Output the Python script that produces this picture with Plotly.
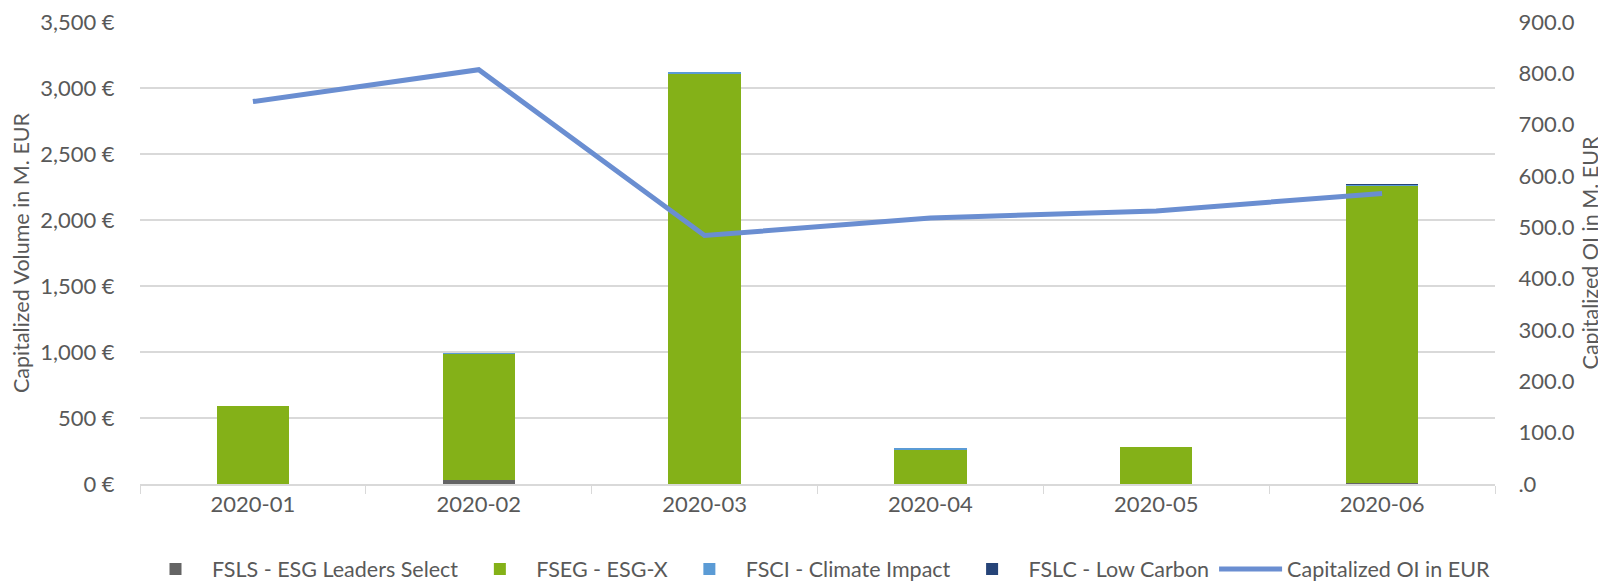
import plotly.graph_objects as go

# Monthly capitalized volume per product (M. EUR)
months = ["2020-01", "2020-02", "2020-03", "2020-04", "2020-05", "2020-06"]
fsls = [0, 30, 0, 0, 0, 10]
fseg = [588, 955, 3112, 258, 282, 2250]
fsci = [0, 7, 7, 12, 0, 6]
fslc = [0, 0, 0, 0, 0, 4]

# Capitalized open interest (M. EUR), right axis
oi = [745, 807, 484, 518, 532, 566]

left_ticks = [0, 500, 1000, 1500, 2000, 2500, 3000, 3500]
left_labels = ["0 €", "500 €", "1,000 €", "1,500 €", "2,000 €", "2,500 €",
               "3,000 €", "3,500 €"]
right_ticks = [0, 100, 200, 300, 400, 500, 600, 700, 800, 900]
right_labels = [".0", "100.0", "200.0", "300.0", "400.0", "500.0",
                "600.0", "700.0", "800.0", "900.0"]

txt = "#595959"
fam = "Lato, Open Sans, sans-serif"
tick_font = dict(family=fam, size=22, color=txt)
title_font = dict(family=fam, size=21.5, color=txt)
legend_font = dict(family=fam, size=21.5, color=txt)

fig = go.Figure()
fig.add_bar(x=months, y=fsls, name="FSLS - ESG Leaders Select", marker_color="#646464")
fig.add_bar(x=months, y=fseg, name="FSEG - ESG-X", marker_color="#84B118")
fig.add_bar(x=months, y=fsci, name="FSCI - Climate Impact", marker_color="#5B9BD5")
fig.add_bar(x=months, y=fslc, name="FSLC - Low Carbon", marker_color="#264478")
fig.add_scatter(x=months, y=oi, name="Capitalized OI in EUR", yaxis="y2",
                mode="lines", line=dict(color="#6A8ED1", width=5))

fig.update_traces(marker_line_width=0, selector=dict(type="bar"))

# the page body has an 8px margin, so the figure is 8px smaller than the window
fig.update_layout(
    width=1598, height=573,
    margin=dict(l=132, r=111, t=14, b=97, autoexpand=False),
    barmode="stack", bargap=0.68,
    plot_bgcolor="white", paper_bgcolor="white",
    font=tick_font,
    xaxis=dict(
        type="category",
        showline=True, linecolor="#D9D9D9", linewidth=1.5,
        ticks="outside", tickson="boundaries", ticklen=8, tickcolor="#D9D9D9",
        tickfont=tick_font,
    ),
    yaxis=dict(
        range=[0, 3500], tickvals=left_ticks, ticktext=left_labels,
        gridcolor="#D9D9D9", gridwidth=1.5, zeroline=False,
        ticks="outside", ticklen=20, tickcolor="rgba(0,0,0,0)",
        ticklabeloverflow="allow",
        title=dict(text="Capitalized Volume in M. EUR", font=title_font, standoff=14),
        tickfont=tick_font,
    ),
    yaxis2=dict(
        range=[0, 900], tickvals=right_ticks, ticktext=right_labels,
        overlaying="y", side="right", showgrid=False, zeroline=False,
        ticks="outside", ticklen=18, tickcolor="rgba(0,0,0,0)",
        ticklabeloverflow="allow",
        title=dict(text="Capitalized OI in M. EUR", font=title_font, standoff=9),
        tickfont=tick_font,
    ),
    legend=dict(orientation="h", x=0.5, xanchor="center", y=-0.184, yanchor="middle",
                font=legend_font, itemwidth=63, traceorder="normal"),
)

fig.write_html("out.html")
